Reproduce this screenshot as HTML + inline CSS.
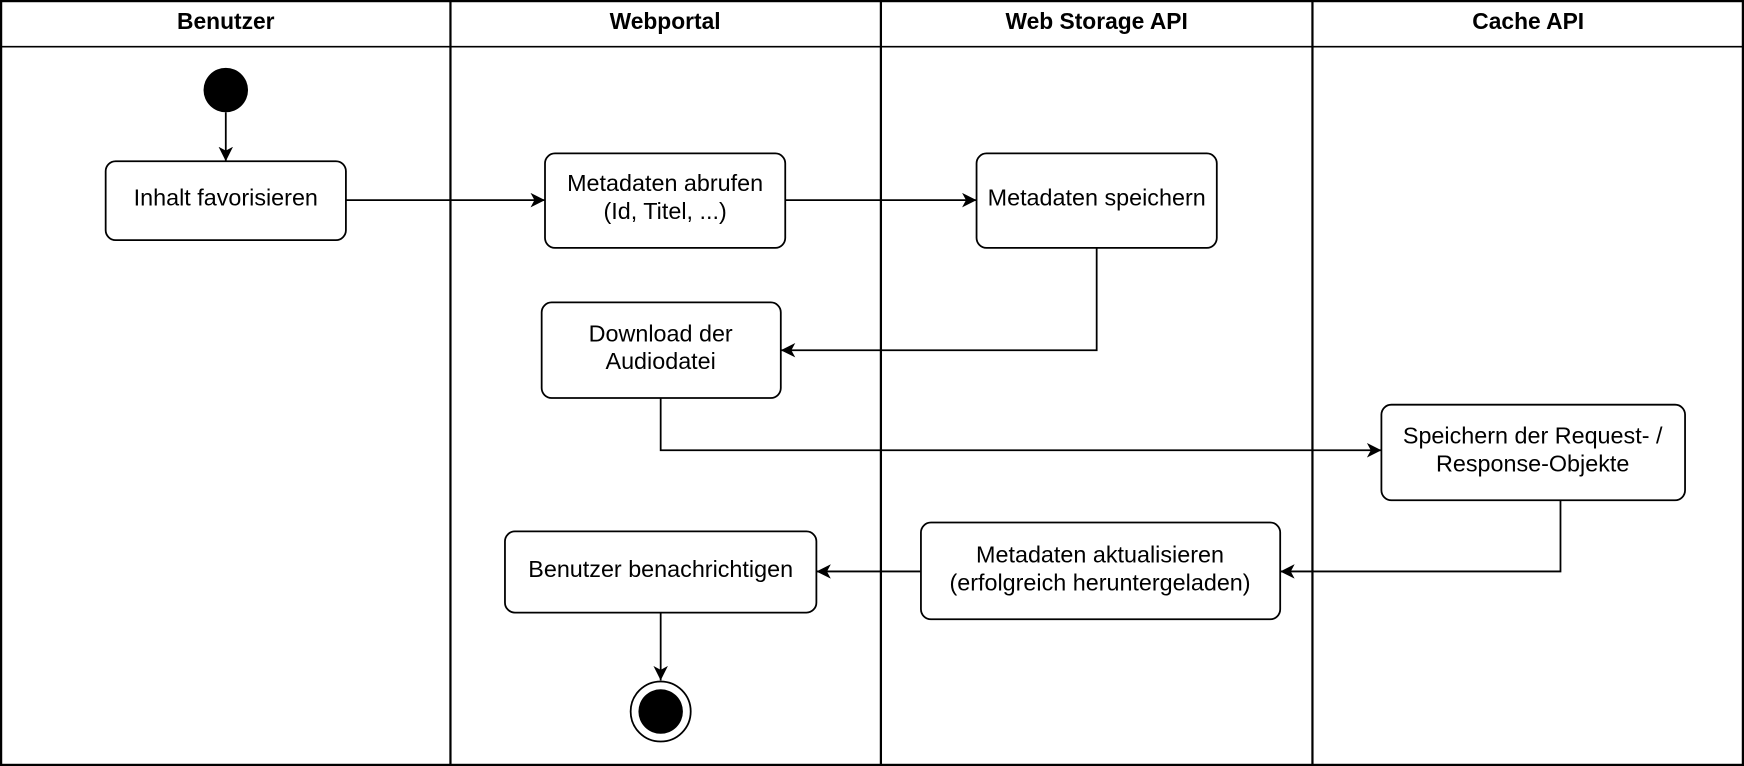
<!DOCTYPE html>
<html><head><meta charset="utf-8"><style>html,body{margin:0;padding:0;background:#fff}svg{display:block}</style></head><body>
<svg width="1744" height="766" viewBox="0 0 1568 689" preserveAspectRatio="none" xmlns="http://www.w3.org/2000/svg" font-family="Liberation Sans, sans-serif">
<defs><marker id="a" markerWidth="14" markerHeight="14" refX="13" refY="6.5" orient="auto" markerUnits="userSpaceOnUse"><path d="M0,0 L13,6.5 L0,13 L3.5,6.5 Z" fill="#000"/></marker></defs>
<rect x="1" y="1" width="1566" height="687" fill="#fff" stroke="#000" stroke-width="2"/>
<line x1="1" y1="42" x2="1567" y2="42" stroke="#000" stroke-width="1.5"/>
<g stroke="#000" stroke-width="2"><line x1="405" y1="1" x2="405" y2="688"/><line x1="792" y1="1" x2="792" y2="688"/><line x1="1180" y1="1" x2="1180" y2="688"/></g>
<g font-weight="bold" font-size="20.5" text-anchor="middle"><text x="203" y="26">Benutzer</text><text x="598" y="26">Webportal</text><text x="986" y="26">Web Storage API</text><text x="1374" y="26">Cache API</text></g>
<circle cx="203" cy="81" r="20" fill="#000"/>
<g fill="none" stroke="#000" stroke-width="1.6" marker-end="url(#a)">
<path d="M203,101 V145"/><path d="M311,180 H490"/><path d="M706,180 H878"/>
<path d="M986,223 V315 H702"/><path d="M594,358 V405 H1242"/><path d="M1403,450 V514 H1151"/>
<path d="M828,514 H734"/><path d="M594,551 V612"/></g>
<g fill="#fff" stroke="#000" stroke-width="1.6">
<rect x="95" y="145" width="216" height="71" rx="9"/><rect x="490" y="138" width="216" height="85" rx="9"/>
<rect x="878" y="138" width="216" height="85" rx="9"/><rect x="487" y="272" width="215" height="86" rx="9"/>
<rect x="1242" y="364" width="273" height="86" rx="9"/><rect x="828" y="470" width="323" height="87" rx="9"/>
<rect x="454" y="478" width="280" height="73" rx="9"/></g>
<circle cx="594" cy="640" r="27" fill="#fff" stroke="#000" stroke-width="1.6"/><circle cx="594" cy="640" r="20" fill="#000"/>
<g font-size="21" text-anchor="middle" fill="#000">
<text x="203" y="185">Inhalt favorisieren</text>
<text x="598" y="172">Metadaten abrufen</text><text x="598" y="197">(Id, Titel, ...)</text>
<text x="986" y="185">Metadaten speichern</text>
<text x="594" y="307">Download der</text><text x="594" y="332">Audiodatei</text>
<text x="1378" y="399">Speichern der Request- /</text><text x="1378" y="424">Response-Objekte</text>
<text x="989" y="506">Metadaten aktualisieren</text><text x="989" y="531">(erfolgreich heruntergeladen)</text>
<text x="594" y="519">Benutzer benachrichtigen</text></g>
</svg></body></html>
